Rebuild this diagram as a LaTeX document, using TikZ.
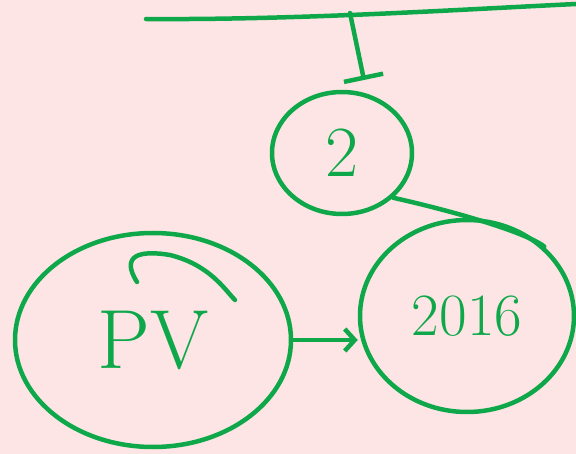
\documentclass[tikz,border=0pt]{standalone}
\usepackage{xcolor}
\usepackage{tikz}
\usetikzlibrary{shapes.geometric,arrows.meta}
\definecolor{pen}{RGB}{14,168,74}
\definecolor{paper}{RGB}{253,229,229}
\tikzset{
  ink/.style={draw=pen, line width=4.5pt, line cap=round, line join=round},
  bubble/.style={ink, ellipse, text=pen, inner sep=0pt},
}
\begin{document}
\begin{tikzpicture}[x=1pt,y=-1pt]
\fill[paper] (0,0) rectangle (576,454);
\useasboundingbox (0,0) rectangle (576,454);
%
\coordinate (left) at (146,19);
\coordinate (right) at (576,4);
\coordinate (drop) at (350,13);
\coordinate (land) at (364,80);
\node[bubble, minimum width=140pt, minimum height=122pt] (two) at (342,153)
  {\fontsize{72}{72}\selectfont 2};
\node[bubble, minimum width=276pt, minimum height=214pt] (pv) at (153,340)
  {\fontsize{84}{84}\selectfont PV};
\node[bubble, minimum width=214pt, minimum height=192pt] (year) at (467,316)
  {\fontsize{60}{60}\selectfont 2016};
%
\draw[ink] (left) .. controls (300,20) and (450,10) .. (right);
\draw[ink, -{Bar[width=40pt,line width=4.5pt]}] (drop) -- (land);
\draw[ink] (two.south east) .. controls (470,215) and (530,235) .. (year.north east);
\draw[ink, -{Straight Barb[length=10pt,width=22pt]}] (pv.east) -- (pv.east -| year.west);
\draw[ink] (137,282) .. controls (120,255) and (140,250) .. (170,255)
  .. controls (210,265) and (225,290) .. (235,300);
\end{tikzpicture}
\end{document}
